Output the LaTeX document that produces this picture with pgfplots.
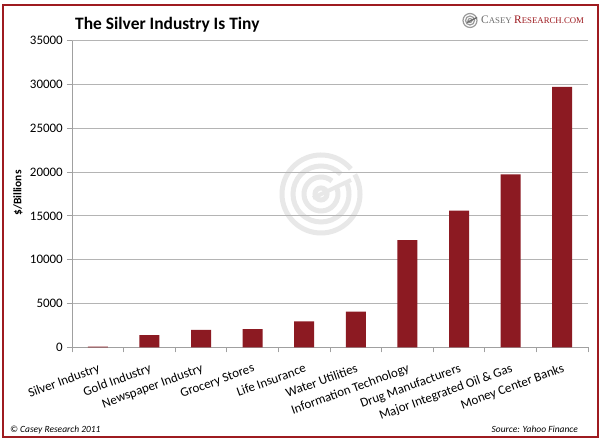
\documentclass[border=0pt]{standalone}
\usepackage{pgfplots}
\pgfplotsset{compat=1.18}
\usepackage{fontspec}
\setmainfont{Carlito}
\newfontfamily\logofont{Liberation Serif}
\definecolor{barred}{HTML}{8C1A22}
\definecolor{framered}{HTML}{9E1B20}
\definecolor{gridgray}{HTML}{B4B4B4}
\definecolor{axisgray}{HTML}{A0A0A0}
\definecolor{wm}{HTML}{E8E8E8}
\definecolor{logogray}{HTML}{6E6E6E}

\begin{document}
\begin{tikzpicture}[x=1bp,y=1bp]
\useasboundingbox (0,0) rectangle (605,446);
\fill[white] (0,0) rectangle (605,446);
\draw[framered, line width=2.2bp] (3,9) rectangle (598,441);
% watermark
\begin{scope}[shift={(321,252)}, wm, line width=5bp]
  \draw (0,0) circle (6);
  \draw (50:17) arc (50:380:17);
  \draw (45:28) arc (45:385:28);
  \draw (40:39) arc (40:390:39);
  \draw[line width=4bp] (-8,-4) -- (30,14);
\end{scope}
% title
\node[anchor=base west, inner sep=0, font=\fontsize{17.5}{18}\selectfont\bfseries] at (75,416) {The Silver Industry Is Tiny};
% logo
\begin{scope}[shift={(470,425.5)}, logogray!70]
  \draw[line width=1.2bp] (0,0) circle (2);
  \draw[line width=1.2bp] (0,0) circle (4.5);
  \draw[line width=1.2bp] (0,0) circle (7);
  \draw[line width=1.5bp, logogray] (-3,-2) -- (7,3);
\end{scope}
\node[anchor=base west, inner sep=0, font=\logofont] at (481,422) {\textcolor{logogray}{\fontsize{11.5}{12}\selectfont C\fontsize{8.8}{9}\selectfont ASEY} \textcolor{framered}{\fontsize{11.5}{12}\selectfont R\fontsize{8.8}{9}\selectfont ESEARCH.COM}};
% y label
\node[rotate=90, font=\fontsize{11.5}{12}\selectfont\bfseries] at (18,253) {\$/Billions};
% footer
\node[anchor=base west, inner sep=0, font=\fontsize{9.5}{10}\selectfont\itshape] at (10,13) {\textcopyright{} Casey Research 2011};
\node[anchor=base east, inner sep=0, font=\fontsize{9.5}{10}\selectfont\itshape] at (578,13) {Source: Yahoo Finance};
\coordinate (O) at (72,98.7);
\begin{axis}[
  at={(O)}, anchor=south west,
  width=516bp, height=306.6bp, scale only axis,
  xmin=-0.5, xmax=9.5, ymin=0, ymax=35000,
  axis x line*=bottom, axis y line*=left,
  axis line style={axisgray, line width=0.8bp},
  xtick={0,...,9},
  xticklabels={Silver Industry, Gold Industry, Newspaper Industry, Grocery Stores, Life Insurance, Water Utilities, Information Technology, Drug Manufacturers, Major Integrated Oil \& Gas, Money Center Banks},
  minor xtick={-0.5,0.5,...,9.5},
  major x tick style={draw=none},
  minor x tick style={axisgray, line width=0.8bp},
  ytick={0,5000,...,35000},
  y tick style={axisgray, line width=0.8bp},
  tick align=outside,
  major tick length=5bp, minor tick length=5bp,
  ymajorgrids, grid style={gridgray, line width=0.8bp},
  scaled y ticks=false,
  /pgf/number format/assume math mode=true,
  yticklabel={\pgfmathprintnumber[fixed, 1000 sep={}]{\tick}},
  yticklabel style={font=\fontsize{13}{13}\selectfont, inner sep=0, xshift=-4bp},
  xticklabel style={font=\fontsize{13}{13}\selectfont, rotate=20, anchor=north east, inner sep=0, yshift=-10bp, xshift=-4bp},
  ybar, bar width=20bp,
]
\addplot[fill=barred, draw=none] coordinates {
(0,90) (1,1380) (2,1990) (3,2070) (4,2950) (5,4060) (6,12230) (7,15610) (8,19730) (9,29730)};
\end{axis}
\end{tikzpicture}
\end{document}
